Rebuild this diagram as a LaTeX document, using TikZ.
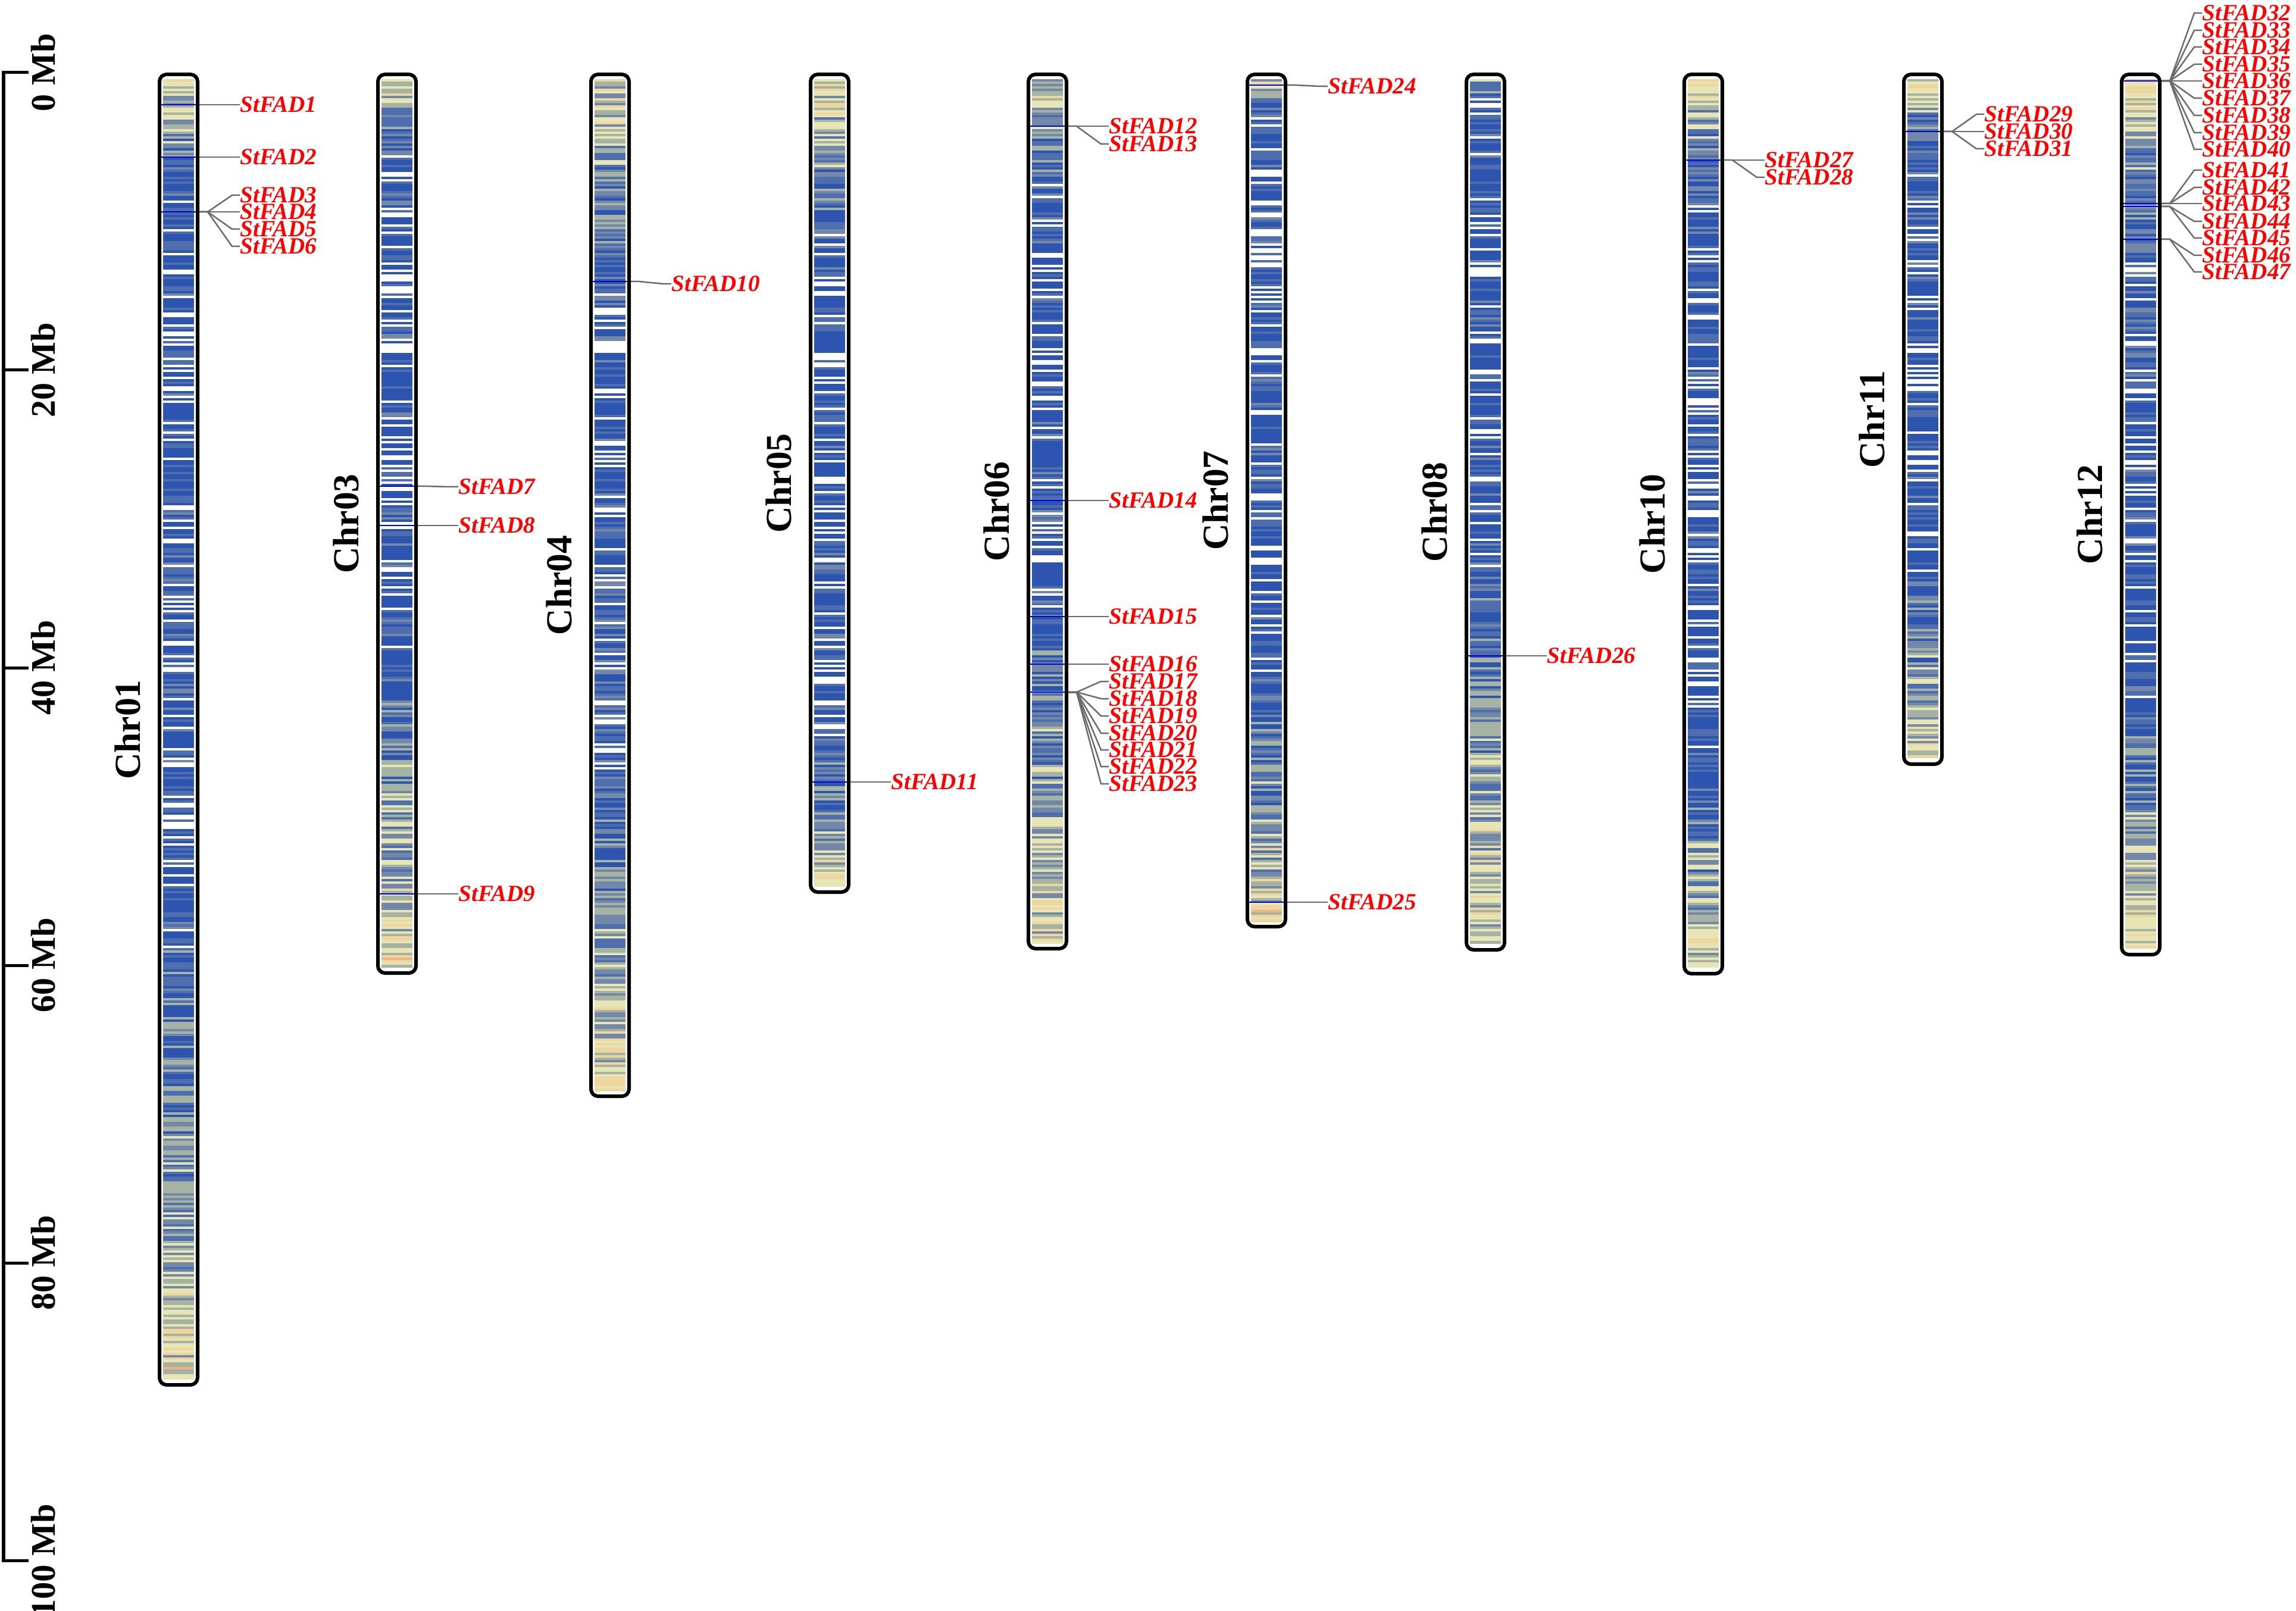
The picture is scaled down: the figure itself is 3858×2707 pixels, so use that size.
\documentclass[tikz,border=0pt]{standalone}
\usepackage{fontspec}
\setmainfont{Liberation Serif}
\definecolor{c0}{HTML}{FFFFFF}
\definecolor{c1}{HTML}{2D55B0}
\definecolor{c2}{HTML}{4F6EAE}
\definecolor{c3}{HTML}{7388A8}
\definecolor{c4}{HTML}{A7B3A2}
\definecolor{c5}{HTML}{E8E5B4}
\definecolor{c6}{HTML}{EDD6A0}
\definecolor{c7}{HTML}{EFB385}
\tikzset{
 chrout/.style={draw=black, line width=0.06cm, rounded corners=0.12cm},
 conn/.style={draw=black!58, line width=0.025cm},
 gline/.style={draw=blue!85!black, line width=0.012cm},
 genelab/.style={anchor=west, inner sep=0pt, text=red, font=\fontsize{11.1}{12}\selectfont\bfseries\itshape},
 chrlab/.style={rotate=90, inner sep=0pt, font=\fontsize{17.5}{20}\selectfont\bfseries},
 axlab/.style={rotate=90, inner sep=0pt, font=\fontsize{16.5}{19}\selectfont\bfseries},
 axisline/.style={draw=black, line width=0.05cm}
}
\newcommand\chromo[6]{%
 \pgfmathsetseed{#6}
 \pgfmathsetmacro\chrL{(#3-122)/25}
 \pgfmathtruncatemacro\nb{(#3-144)/4-1}
 \foreach \i in {0,...,\nb}{
   \pgfmathsetmacro\pos{(\i*4+13)/25}
   \pgfmathsetmacro\bb{max(0,1-\pos/#4,1-(\chrL-\pos)/#5)}
   \pgfmathsetmacro\vv{0.12+0.62*\bb+0.27*rand}
   \pgfmathtruncatemacro\kk{(\vv>-0.03)+(\vv>0.24)+(\vv>0.36)+(\vv>0.48)+(\vv>0.64)+(\vv>0.82)+(\vv>0.96)}
   \fill[c\kk] (#2+9,133+\i*4) rectangle (#2+61,137.6+\i*4);
 }
 \draw[chrout] (#2+3,125) rectangle (#2+67,#3-3);
 \node[chrlab] (#1) at (#2-51,{(122+#3)/2}) {#1};
}
\newcommand\gene[4]{%
 \draw[gline] (#2-64,#3) -- (#2-6,#3);
 \coordinate (p#1) at (#2,#3);
 \node[genelab] (f#1) at (#2+68,#4) {StFAD#1};
 \draw[conn] (p#1) -- ++(14,0) -- ([xshift=-0.13cm]f#1.west) -- (f#1.west);
}
\begin{document}
\begin{tikzpicture}[x=0.01cm,y=-0.01cm]
\useasboundingbox (0,0) rectangle (3858,2707);
% axis
\draw[axisline] (48,122) -- (6,122) -- (6,2622) -- (48,2622);
\foreach \k in {1,...,4}{\draw[axisline] (6,122+500*\k) -- (48,122+500*\k);}
\foreach \k/\t in {0/0,1/20,2/40,3/60,4/80,5/100}{
  \node[axlab] (ax\k) at (73,122+500*\k) {\t\ Mb};
}
% chromosomes
\chromo{Chr01}{265}{2330}{8}{35}{11}
\chromo{Chr03}{632}{1638}{6}{25}{13}
\chromo{Chr04}{990}{1845}{16}{24}{17}
\chromo{Chr05}{1359}{1502}{12}{12}{19}
\chromo{Chr06}{1725}{1597}{9}{26}{23}
\chromo{Chr07}{2093}{1560}{3}{18}{29}
\chromo{Chr08}{2461}{1599}{2}{30}{31}
\chromo{Chr10}{2827}{1639}{8}{16}{37}
\chromo{Chr11}{3196}{1287}{6}{14}{41}
\chromo{Chr12}{3562}{1607}{14}{20}{43}
% genes
\gene{1}{335}{176}{176}
\gene{2}{335}{264}{264}
\gene{3}{335}{356}{328}
\gene{4}{335}{356}{356}
\gene{5}{335}{356}{385}
\gene{6}{335}{356}{414}
\gene{7}{702}{817}{818}
\gene{8}{702}{883}{883}
\gene{9}{702}{1502}{1502}
\gene{10}{1060}{473}{477}
\gene{11}{1429}{1314}{1314}
\gene{12}{1795}{212}{212}
\gene{13}{1795}{212}{242}
\gene{14}{1795}{841}{841}
\gene{15}{1795}{1036}{1036}
\gene{16}{1795}{1116}{1116}
\gene{17}{1795}{1163}{1145}
\gene{18}{1795}{1163}{1174}
\gene{19}{1795}{1163}{1203}
\gene{20}{1795}{1163}{1232}
\gene{21}{1795}{1163}{1260}
\gene{22}{1795}{1163}{1288}
\gene{23}{1795}{1163}{1317}
\gene{24}{2163}{143}{145}
\gene{25}{2163}{1516}{1516}
\gene{26}{2531}{1102}{1102}
\gene{27}{2897}{269}{269}
\gene{28}{2897}{269}{298}
\gene{29}{3266}{221}{192}
\gene{30}{3266}{221}{221}
\gene{31}{3266}{221}{250}
\gene{32}{3632}{136}{22}
\gene{33}{3632}{136}{51}
\gene{34}{3632}{136}{79}
\gene{35}{3632}{136}{108}
\gene{36}{3632}{136}{136}
\gene{37}{3632}{136}{165}
\gene{38}{3632}{136}{194}
\gene{39}{3632}{136}{223}
\gene{40}{3632}{136}{251}
\gene{41}{3632}{342}{286}
\gene{42}{3632}{342}{315}
\gene{43}{3632}{342}{342}
\gene{44}{3632}{347}{372}
\gene{45}{3632}{347}{400}
\gene{46}{3632}{402}{429}
\gene{47}{3632}{402}{457}
\end{tikzpicture}
\end{document}
